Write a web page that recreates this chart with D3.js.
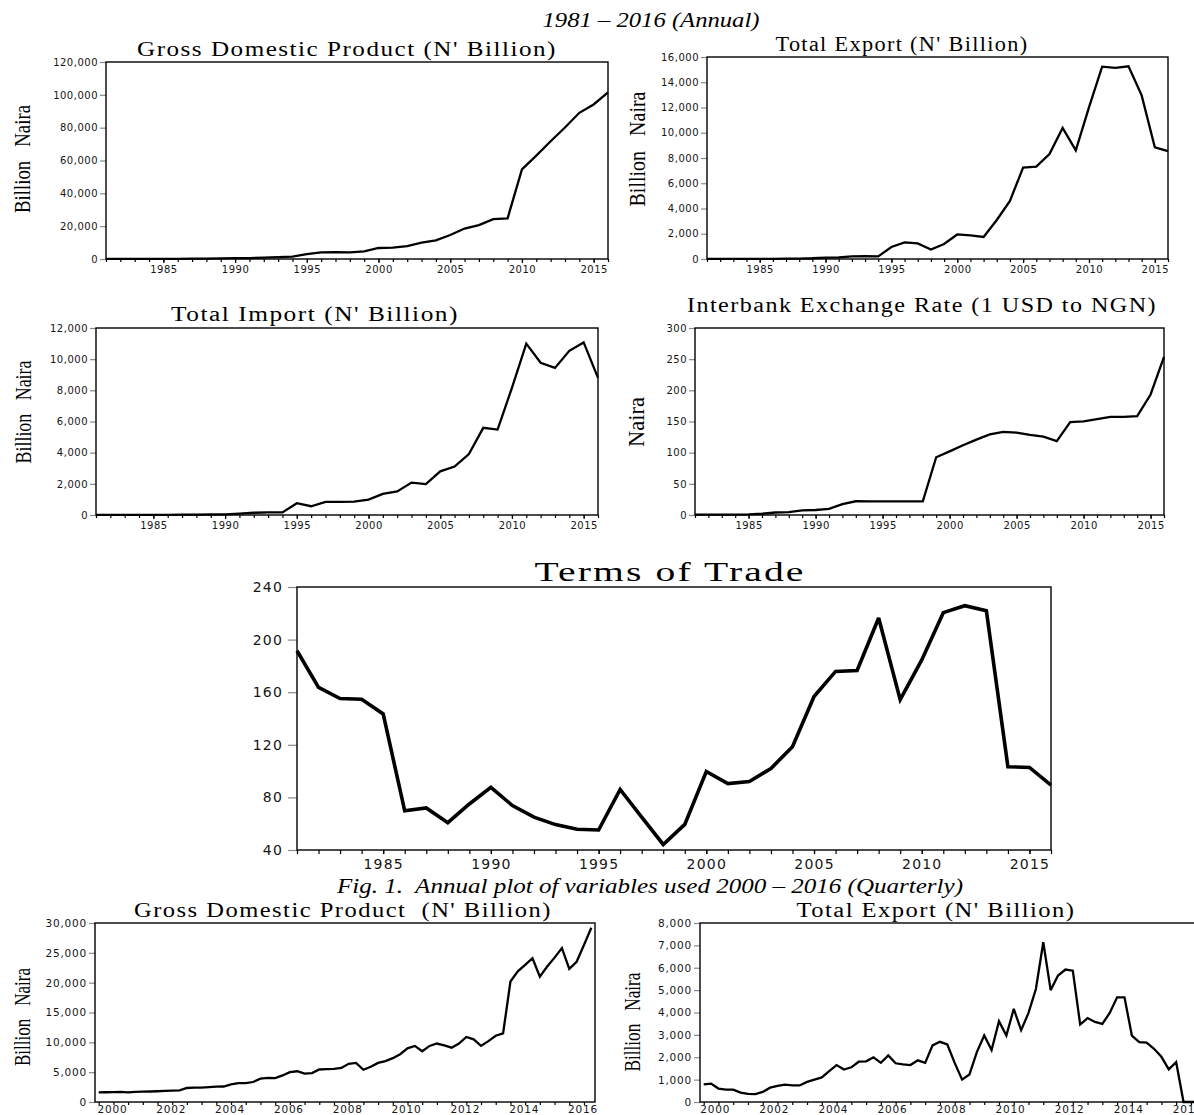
<!DOCTYPE html>
<html>
<head>
<meta charset="utf-8">
<script src="https://cdn.jsdelivr.net/npm/d3@7"></script>
<style>
  body { margin: 0; background: #fff; }
  svg { display: block; }
  text { white-space: pre; }
</style>
</head>
<body>
<div id="chart"></div>
<script>
// ---- data ----
const years = [1981, 1982, 1983, 1984, 1985, 1986, 1987, 1988, 1989, 1990, 1991, 1992,
  1993, 1994, 1995, 1996, 1997, 1998, 1999, 2000, 2001, 2002, 2003, 2004,
  2005, 2006, 2007, 2008, 2009, 2010, 2011, 2012, 2013, 2014, 2015, 2016];
const yearTicks = [1985, 1990, 1995, 2000, 2005, 2010, 2015];

const gdpAnnual = [94, 101, 110, 116, 134, 134, 193, 263, 382, 472, 545, 875,
  1089, 1399, 2907, 4033, 4190, 4000, 4680, 6713, 6895, 7795, 9913, 11411,
  14610, 18564, 20657, 24296, 24794, 54612, 62980, 71713, 80092, 89043, 94144, 101490];
const exportAnnual = [11, 8, 8, 9, 12, 9, 30, 31, 58, 109, 121, 206,
  218, 206, 950, 1310, 1240, 750, 1190, 1945, 1868, 1745, 3087, 4602,
  7247, 7325, 8310, 10387, 8606, 12012, 15237, 15140, 15263, 12960, 8846, 8540];
const importAnnual = [13, 11, 9, 7, 7, 6, 18, 21, 31, 46, 90, 143,
  166, 163, 756, 563, 846, 837, 863, 985, 1358, 1512, 2080, 1987,
  2800, 3108, 3912, 5593, 5480, 8164, 10996, 9766, 9439, 10538, 11077, 8800];
const exchangeAnnual = [0.61, 0.67, 0.72, 0.76, 0.89, 2.02, 4.02, 4.54, 7.39, 8.04, 9.91, 17.3,
  22.05, 21.89, 21.89, 21.89, 21.89, 21.89, 92.69, 102.1, 111.9, 121.0, 129.4, 133.5,
  132.1, 128.7, 125.8, 118.6, 148.9, 150.3, 153.9, 157.5, 157.3, 158.6, 193.3, 253.5];
const totAnnual = [191.5, 163.6, 155.2, 154.6, 143.5, 69.8, 72, 60.8, 75, 87.6, 73.8, 65,
  59.3, 55.8, 55.2, 86, 65, 44.2, 59.5, 99.7, 90.5, 92.1, 102, 118.6,
  156.7, 175.8, 176.5, 216.4, 154.3, 184.5, 220.5, 225.8, 222, 103.3, 102.8, 89.4];

// quarterly 2000Q1 .. 2016Q4
const quarterYears = [2000, 2001, 2002, 2003, 2004, 2005, 2006, 2007, 2008,
  2009, 2010, 2011, 2012, 2013, 2014, 2015, 2016];
const quarterLabels = ["2000", "2002", "2004", "2006", "2008", "2010", "2012", "2014", "2016"];
const gdpQuarterly = [
  1620, 1630, 1640, 1700,  1620, 1700, 1730, 1760,  1800, 1850, 1900, 1950,
  2350, 2400, 2420, 2480,  2560, 2600, 2950, 3150,  3150, 3350, 3900, 4050,
  4000, 4450, 5000, 5150,  4750, 4850, 5450, 5500,  5550, 5700, 6400, 6550,
  5400, 5900, 6550, 6850,  7350, 8000, 9000, 9400,  8500, 9400, 9800, 9500,
  9100, 9800, 10900, 10500,  9400, 10200, 11100, 11500,  20200, 21900, 23000, 24100,
  21000, 22700, 24200, 25800,  22300, 23500, 26300, 29200];
const exportQuarterly = [
  790, 820, 600, 550,  550, 420, 360, 350,  450, 640, 720, 780,
  740, 740, 900, 1000,  1100, 1380, 1650, 1450,  1550, 1800, 1820, 2000,
  1750, 2080, 1730, 1680,  1650, 1860, 1750, 2530,  2690, 2570, 1750, 1000,
  1230, 2230, 2970, 2320,  3610, 2970, 4160, 3210,  3980, 5050, 7140, 5000,
  5650, 5920, 5870, 3460,  3750, 3580, 3490, 3980,  4680, 4680, 2970, 2680,
  2650, 2380, 2020, 1460,  1780, 0, 0, 0];

// quarter categories, e.g. "2000Q1"
const quarters = [];
quarterYears.forEach(yr => [1, 2, 3, 4].forEach(q => quarters.push(`${yr}Q${q}`)));

// ---- page ----
const svg = d3.select("#chart")
  .append("svg")
  .attr("width", 1194)
  .attr("height", 1115);

const sansFont = "DejaVu Sans, Verdana, sans-serif";
const serifFont = "Liberation Serif, Times New Roman, serif";

function drawPanel(cfg) {
  const g = svg.append("g");

  const x = d3.scaleLinear().domain(cfg.xDomain).range([cfg.left, cfg.right]);
  const y = d3.scaleLinear().domain(cfg.yDomain).range([cfg.bottom, cfg.top]);

  // y axis (ticks outside, grey)
  const yAxis = d3.axisLeft(y)
    .tickValues(cfg.yTicks)
    .tickSize(cfg.yTickLen)
    .tickPadding(cfg.yPad)
    .tickFormat(cfg.yFormat);
  const ya = g.append("g")
    .attr("transform", `translate(${cfg.left},0)`)
    .call(yAxis);
  ya.select(".domain").remove();
  ya.selectAll("line").attr("stroke", "#8a8a8a").attr("stroke-width", 1.2);
  ya.selectAll("text")
    .attr("font-family", sansFont)
    .attr("font-size", cfg.tickFont)
    .attr("letter-spacing", cfg.tickSpacing)
    .attr("fill", "#151515");

  // x minor ticks
  const xMinor = d3.axisBottom(x)
    .tickValues(cfg.xMinor)
    .tickSize(cfg.xTickLen)
    .tickFormat("");
  const xm = g.append("g")
    .attr("transform", `translate(0,${cfg.bottom})`)
    .call(xMinor);
  xm.select(".domain").remove();
  xm.selectAll("line").attr("stroke", "#000").attr("stroke-width", 1.2);

  // x labels
  const xLab = d3.axisBottom(x)
    .tickValues(cfg.xLabelPos)
    .tickSize(cfg.xLabelTick)
    .tickPadding(cfg.xPad)
    .tickFormat((d, i) => cfg.xLabels[i]);
  const xl = g.append("g")
    .attr("transform", `translate(0,${cfg.bottom})`)
    .call(xLab);
  xl.select(".domain").remove();
  xl.selectAll("line").attr("stroke", "#000").attr("stroke-width", 1.2);
  xl.selectAll("text")
    .attr("font-family", sansFont)
    .attr("font-size", cfg.tickFont)
    .attr("letter-spacing", cfg.tickSpacing)
    .attr("fill", "#151515");

  // series line
  const line = d3.line()
    .x((d, i) => x(cfg.xs[i]))
    .y(d => y(d));
  g.append("path")
    .datum(cfg.values)
    .attr("d", line)
    .attr("fill", "none")
    .attr("stroke", "#000")
    .attr("stroke-width", cfg.lineWidth)
    .attr("stroke-linejoin", "miter")
    .attr("stroke-miterlimit", 3);

  // frame
  g.append("rect")
    .attr("x", cfg.left)
    .attr("y", cfg.top)
    .attr("width", cfg.right - cfg.left)
    .attr("height", cfg.bottom - cfg.top)
    .attr("fill", "none")
    .attr("stroke", "#000")
    .attr("stroke-width", 1.4);

  // title: wide serif, stretched to the measured width
  g.append("text")
    .attr("x", cfg.title.x)
    .attr("y", cfg.title.y)
    .attr("text-anchor", "middle")
    .attr("font-family", serifFont)
    .attr("font-size", cfg.title.size)
    .attr("letter-spacing", cfg.title.ls)
    .attr("textLength", cfg.title.w)
    .attr("lengthAdjust", "spacingAndGlyphs")
    .text(cfg.title.text);

  // rotated y label, condensed
  if (cfg.ylab) {
    g.append("text")
      .attr("transform", `translate(${cfg.ylab.x},${cfg.ylab.y}) rotate(-90)`)
      .attr("text-anchor", "middle")
      .attr("dy", "0.35em")
      .attr("font-family", serifFont)
      .attr("font-size", 24)
      .attr("textLength", cfg.ylab.len)
      .attr("lengthAdjust", "spacingAndGlyphs")
      .text(cfg.ylab.text);
  }
}

const annualBase = {
  xDomain: [1981, 2016],
  xs: years,
  xMinor: years,
  xTickLen: 3,
  xLabelPos: yearTicks,
  xLabels: yearTicks.map(String),
  xLabelTick: 4,
  xPad: 3,
  yTickLen: 6,
  yPad: 2,
  tickFont: 10,
  tickSpacing: 0.5,
  yFormat: d3.format(","),
  lineWidth: 2.3
};

drawPanel({...annualBase,
  left: 106, right: 608, top: 62, bottom: 259,
  yDomain: [0, 120000], yTicks: [0, 20000, 40000, 60000, 80000, 100000, 120000],
  values: gdpAnnual,
  title: {text: "Gross Domestic Product (N' Billion)", x: 347, y: 56, w: 420, size: 20, ls: 1.2},
  ylab: {text: "Billion   Naira", x: 22, y: 159, len: 108}
});

drawPanel({...annualBase,
  left: 707, right: 1168, top: 57, bottom: 259,
  yDomain: [0, 16000], yTicks: [0, 2000, 4000, 6000, 8000, 10000, 12000, 14000, 16000],
  values: exportAnnual,
  title: {text: "Total Export (N' Billion)", x: 902, y: 51, w: 253, size: 20, ls: 1.2},
  ylab: {text: "Billion   Naira", x: 637, y: 149, len: 115}
});

drawPanel({...annualBase,
  left: 96, right: 598, top: 328, bottom: 515,
  yDomain: [0, 12000], yTicks: [0, 2000, 4000, 6000, 8000, 10000, 12000],
  values: importAnnual,
  title: {text: "Total Import (N' Billion)", x: 315, y: 321, w: 288, size: 20, ls: 1.2},
  ylab: {text: "Billion   Naira", x: 23, y: 412, len: 103}
});

drawPanel({...annualBase,
  left: 695, right: 1164, top: 328, bottom: 515,
  yDomain: [0, 300], yTicks: [0, 50, 100, 150, 200, 250, 300],
  values: exchangeAnnual,
  title: {text: "Interbank Exchange Rate (1 USD to NGN)", x: 922, y: 312, w: 470, size: 20, ls: 1.2},
  ylab: {text: "Naira", x: 636, y: 422, len: 50}
});

drawPanel({...annualBase,
  left: 297, right: 1051, top: 587, bottom: 850,
  yDomain: [40, 240], yTicks: [40, 80, 120, 160, 200, 240],
  yTickLen: 9, yPad: 5,
  tickFont: 14, tickSpacing: 1.2,
  xTickLen: 4, xLabelTick: 4, xPad: 5,
  values: totAnnual,
  lineWidth: 3.6,
  title: {text: "Terms of Trade", x: 670, y: 581, w: 271, size: 28, ls: 1.5}
});

const quarterIdx = quarters.map((q, i) => i);
const quarterBase = {
  xDomain: [-0.5, 67.5],
  xs: quarterIdx,
  xMinor: quarterIdx.filter(i => i % 2 === 0),
  xTickLen: 3,
  xLabels: quarterLabels,
  xLabelTick: 0,
  xPad: 3.5,
  yTickLen: 6,
  yPad: 2,
  tickFont: 10.5,
  tickSpacing: 0.8,
  yFormat: d3.format(","),
  lineWidth: 2.3
};

drawPanel({...quarterBase,
  left: 95, right: 595, top: 923, bottom: 1102,
  xLabelPos: quarterLabels.map((s, k) => 8 * k + 1.8),
  yDomain: [0, 30000], yTicks: [0, 5000, 10000, 15000, 20000, 25000, 30000],
  values: gdpQuarterly,
  title: {text: "Gross Domestic Product  (N' Billion)", x: 343, y: 917, w: 418, size: 20, ls: 1.2},
  ylab: {text: "Billion   Naira", x: 22, y: 1017, len: 98}
});

drawPanel({...quarterBase,
  left: 700, right: 1202, top: 923, bottom: 1102,
  xLabelPos: quarterLabels.map((s, k) => 8 * k + 1.5),
  yDomain: [0, 8000], yTicks: [0, 1000, 2000, 3000, 4000, 5000, 6000, 7000, 8000],
  values: exportQuarterly,
  title: {text: "Total Export (N' Billion)", x: 936, y: 917, w: 279, size: 20, ls: 1.2},
  ylab: {text: "Billion   Naira", x: 632, y: 1022, len: 99}
});

// header and caption lines
svg.append("text")
  .attr("x", 651).attr("y", 27)
  .attr("text-anchor", "middle")
  .attr("font-family", serifFont)
  .attr("font-style", "italic")
  .attr("font-size", 21)
  .attr("textLength", 217)
  .attr("lengthAdjust", "spacingAndGlyphs")
  .text("1981 – 2016 (Annual)");

svg.append("text")
  .attr("x", 650).attr("y", 893)
  .attr("text-anchor", "middle")
  .attr("font-family", serifFont)
  .attr("font-style", "italic")
  .attr("font-size", 21)
  .attr("textLength", 626)
  .attr("lengthAdjust", "spacingAndGlyphs")
  .text("Fig. 1.  Annual plot of variables used 2000 – 2016 (Quarterly)");
</script>
</body>
</html>
